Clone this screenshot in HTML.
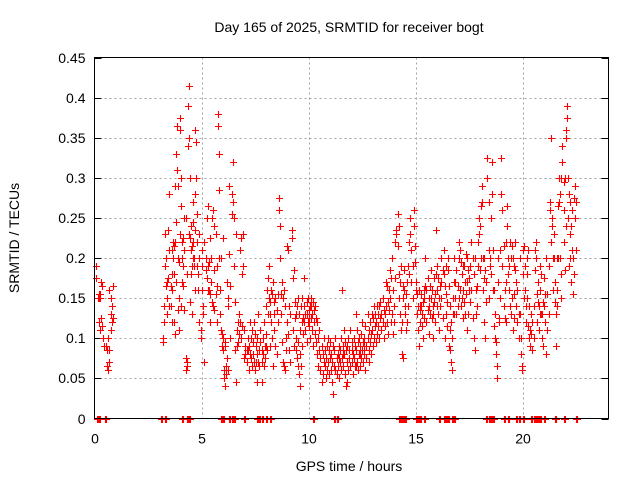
<!DOCTYPE html>
<html><head><meta charset="utf-8"><style>
body{margin:0;background:#fff}
svg{display:block;font-family:"Liberation Sans",sans-serif}
</style></head><body>
<svg id="chart" width="640" height="480" viewBox="0 0 640 480">
<text x="349" y="32" font-size="14" text-anchor="middle">Day 165 of 2025, SRMTID for receiver bogt</text>
<text transform="translate(19,238) rotate(-90)" font-size="14" text-anchor="middle">SRMTID / TECUs</text>
<text x="349" y="471" font-size="14" text-anchor="middle">GPS time / hours</text>
<g id="grid"></g>
<g id="ticks"></g>
<g id="marks"></g>
<rect x="94.5" y="57.5" width="514" height="361" fill="none" stroke="#000" stroke-width="1"/>
</svg>
<script>
const xTicks=[0,5,10,15,20];
const yTicks=[0,0.05,0.1,0.15,0.2,0.25,0.3,0.35,0.4,0.45];
const yTickLabels=["0","0.05","0.1","0.15","0.2","0.25","0.3","0.35","0.4","0.45"];
// [hour, SRMTID] pairs, grouped by time segment
const segEarly=[[0.05,0.19],[0.05,0.175],[0.15,0.15],[0.2,0.155],[0.2,0.12],[0.25,0.15],[0.25,0.11],[0.3,0.125],[0.3,0.17],[0.35,0.165],[0.35,0.115],[0.4,0.1],[0.45,0.09],[0.55,0.09],[0.6,0.085],[0.6,0.065],[0.65,0.06],[0.7,0.07],[0.7,0.16],[0.75,0.15],[0.75,0.13],[0.8,0.12],[0.8,0.14],[0.85,0.165],[0.85,0.125],[0.65,0.1],[0.7,0.085],[0.75,0.11],[0.2,0.15],[0.25,0.155]];
const segMorning=[[3.2,0.1],[3.2,0.095],[3.25,0.12],[3.25,0.14],[3.3,0.19],[3.3,0.23],[3.35,0.2],[3.35,0.165],[3.4,0.13],[3.4,0.15],[3.45,0.235],[3.45,0.175],[3.5,0.21],[3.5,0.28],[3.55,0.14],[3.55,0.165],[3.6,0.16],[3.6,0.18],[3.65,0.22],[3.65,0.2],[3.7,0.215],[3.7,0.12],[3.75,0.22],[3.75,0.29],[3.8,0.245],[3.8,0.33],[3.85,0.365],[3.85,0.31],[3.9,0.29],[3.9,0.135],[3.95,0.15],[3.95,0.11],[4.0,0.375],[4.0,0.36],[4.05,0.3],[4.05,0.265],[4.1,0.2],[4.1,0.17],[4.15,0.19],[4.15,0.165],[4.2,0.25],[4.2,0.135],[4.25,0.075],[4.25,0.06],[4.3,0.065],[4.3,0.07],[4.35,0.39],[4.35,0.34],[4.4,0.415],[4.4,0.35],[4.45,0.3],[4.45,0.225],[4.5,0.24],[4.5,0.21],[4.55,0.215],[4.55,0.19],[4.6,0.27],[4.6,0.245],[4.65,0.2],[4.65,0.19],[4.7,0.36],[4.7,0.28],[4.75,0.345],[4.75,0.3],[4.8,0.255],[4.8,0.22],[4.85,0.18],[4.85,0.16],[4.9,0.2],[4.9,0.12],[4.95,0.1],[4.95,0.11],[5.0,0.21],[5.0,0.16],[5.05,0.13],[5.05,0.14],[5.1,0.07],[5.1,0.22],[3.6,0.21],[3.7,0.18],[3.8,0.17],[3.9,0.2],[4.0,0.23],[4.1,0.22],[4.2,0.21],[4.3,0.18],[4.4,0.23],[4.5,0.18],[4.6,0.2],[4.7,0.16],[4.8,0.19],[4.9,0.23],[5.0,0.19],[3.4,0.17],[3.5,0.14],[3.6,0.12],[3.75,0.105],[4.05,0.14],[4.45,0.145],[4.55,0.13],[4.25,0.25],[4.15,0.225],[3.95,0.195],[4.6,0.22],[4.7,0.235]];
const segMid=[[5.2,0.2],[5.2,0.185],[5.25,0.25],[5.25,0.175],[5.3,0.265],[5.3,0.19],[5.35,0.195],[5.35,0.16],[5.4,0.225],[5.4,0.155],[5.45,0.2],[5.45,0.17],[5.5,0.25],[5.5,0.145],[5.55,0.26],[5.55,0.14],[5.6,0.24],[5.6,0.135],[5.65,0.23],[5.65,0.155],[5.7,0.19],[5.7,0.12],[5.75,0.38],[5.75,0.365],[5.8,0.33],[5.8,0.285],[5.85,0.16],[5.85,0.13],[5.9,0.2],[5.9,0.11],[5.95,0.105],[5.95,0.09],[6.0,0.225],[6.0,0.085],[6.05,0.06],[6.05,0.05],[6.1,0.095],[6.1,0.04],[6.15,0.065],[6.15,0.055],[6.2,0.17],[6.2,0.075],[6.25,0.15],[6.25,0.14],[6.3,0.205],[6.3,0.29],[6.35,0.165],[6.35,0.1],[6.4,0.28],[6.4,0.255],[6.45,0.32],[6.45,0.27],[6.5,0.25],[6.5,0.19],[6.55,0.145],[6.55,0.085],[6.6,0.23],[6.6,0.045],[6.65,0.09],[6.65,0.11],[6.7,0.12],[6.7,0.095],[6.75,0.105],[6.75,0.13],[6.8,0.21],[6.8,0.12],[6.85,0.225],[6.85,0.1],[6.9,0.18],[6.9,0.115],[6.95,0.23],[6.95,0.19],[7.0,0.075],[7.0,0.11],[7.05,0.09],[7.05,0.08],[7.1,0.085],[7.1,0.07],[7.15,0.1],[7.15,0.085],[7.2,0.09],[7.2,0.06],[7.25,0.12],[7.25,0.08],[5.6,0.185],[5.7,0.165],[5.8,0.2],[5.3,0.16],[5.4,0.12],[6.0,0.1],[6.1,0.09],[6.25,0.06]];
const segDay=[[7.3,0.075],[7.3,0.1],[7.35,0.065],[7.35,0.11],[7.4,0.08],[7.4,0.095],[7.45,0.07],[7.45,0.12],[7.5,0.105],[7.5,0.06],[7.55,0.07],[7.55,0.09],[7.6,0.045],[7.6,0.1],[7.65,0.07],[7.65,0.13],[7.7,0.085],[7.7,0.065],[7.75,0.095],[7.75,0.11],[7.8,0.07],[7.8,0.045],[7.85,0.08],[7.85,0.1],[7.9,0.065],[7.9,0.12],[7.95,0.09],[7.95,0.075],[8.0,0.14],[8.0,0.105],[8.05,0.16],[8.05,0.085],[8.1,0.175],[8.1,0.13],[8.15,0.19],[8.15,0.15],[8.2,0.145],[8.2,0.09],[8.25,0.16],[8.25,0.12],[8.3,0.155],[8.3,0.1],[8.35,0.17],[8.35,0.065],[8.4,0.145],[8.4,0.11],[8.45,0.15],[8.45,0.09],[8.5,0.135],[8.5,0.08],[8.55,0.155],[8.55,0.12],[8.6,0.275],[8.6,0.26],[8.65,0.24],[8.65,0.2],[8.7,0.155],[8.7,0.13],[8.75,0.17],[8.75,0.095],[8.8,0.15],[8.8,0.07],[8.85,0.16],[8.85,0.065],[8.9,0.14],[8.9,0.06],[8.95,0.1],[8.95,0.085],[9.0,0.215],[9.0,0.12],[9.05,0.21],[9.05,0.105],[9.1,0.14],[9.1,0.085],[9.15,0.13],[9.15,0.07],[9.2,0.235],[9.2,0.225],[9.25,0.175],[9.25,0.11],[9.3,0.185],[9.3,0.09],[9.35,0.145],[9.35,0.125],[9.4,0.13],[9.4,0.1],[9.45,0.14],[9.45,0.075],[9.5,0.15],[9.5,0.065],[9.55,0.13],[9.55,0.055],[9.6,0.11],[9.6,0.04],[9.65,0.14],[9.65,0.065],[9.7,0.15],[9.7,0.12],[9.75,0.125],[9.75,0.105],[9.8,0.14],[9.8,0.175],[9.85,0.13],[9.85,0.11],[9.9,0.145],[9.9,0.095],[9.95,0.15],[9.95,0.12],[10.0,0.135],[10.0,0.115],[10.05,0.14],[10.05,0.1],[10.1,0.125],[10.1,0.15],[10.15,0.13],[10.15,0.11],[10.2,0.145],[10.2,0.09],[10.25,0.12],[10.25,0.135],[10.3,0.14],[10.3,0.105],[10.35,0.095],[10.35,0.125],[10.4,0.12],[10.4,0.08],[10.45,0.1],[10.45,0.065],[10.5,0.085],[10.5,0.11],[10.55,0.06],[10.55,0.075],[10.6,0.045],[10.6,0.09],[10.65,0.08],[10.65,0.055],[10.7,0.1],[10.7,0.07],[10.75,0.065],[10.75,0.085],[10.8,0.075],[10.8,0.05],[10.85,0.09],[10.85,0.06],[9.9,0.13],[10.0,0.125],[10.1,0.14],[9.8,0.12],[9.7,0.09],[9.6,0.08],[9.5,0.095],[9.4,0.085],[8.2,0.13],[8.4,0.13],[8.0,0.09],[7.8,0.085],[7.6,0.08]];
const segLow=[[10.9,0.07],[10.9,0.1],[10.95,0.085],[10.95,0.055],[11.0,0.075],[11.0,0.095],[11.05,0.06],[11.05,0.08],[11.1,0.045],[11.1,0.07],[11.15,0.03],[11.15,0.09],[11.2,0.065],[11.2,0.085],[11.25,0.06],[11.25,0.1],[11.3,0.075],[11.3,0.055],[11.35,0.08],[11.35,0.065],[11.4,0.09],[11.4,0.05],[11.45,0.07],[11.45,0.085],[11.5,0.06],[11.5,0.1],[11.55,0.16],[11.55,0.075],[11.6,0.09],[11.6,0.065],[11.65,0.11],[11.65,0.08],[11.7,0.055],[11.7,0.095],[11.75,0.04],[11.75,0.085],[11.8,0.045],[11.8,0.07],[11.85,0.06],[11.85,0.1],[11.9,0.075],[11.9,0.085],[11.95,0.11],[11.95,0.065],[12.0,0.095],[12.0,0.07],[12.05,0.08],[12.05,0.055],[12.1,0.1],[12.1,0.075],[12.15,0.065],[12.15,0.09],[12.2,0.13],[12.2,0.085],[12.25,0.07],[12.25,0.11],[12.3,0.095],[12.3,0.06],[12.35,0.08],[12.35,0.1],[12.4,0.065],[12.4,0.09],[12.45,0.105],[12.45,0.075],[12.5,0.085],[12.5,0.12],[12.55,0.07],[12.55,0.095],[12.6,0.1],[12.6,0.08],[12.65,0.06],[12.65,0.115],[12.7,0.09],[12.7,0.075],[12.75,0.13],[12.75,0.1],[12.8,0.085],[12.8,0.11],[12.85,0.12],[12.85,0.095],[12.9,0.08],[12.9,0.105],[12.95,0.13],[12.95,0.11],[13.0,0.09],[13.0,0.125],[13.05,0.14],[13.05,0.1],[13.1,0.115],[13.1,0.13],[13.15,0.12],[13.15,0.095],[13.2,0.14],[13.2,0.105],[13.25,0.13],[13.25,0.115],[13.3,0.1],[13.3,0.14],[13.35,0.125],[13.35,0.145],[13.4,0.11],[13.4,0.13],[13.45,0.12],[13.45,0.15],[13.5,0.135],[13.5,0.1],[13.55,0.13],[13.55,0.115],[13.6,0.17],[13.6,0.14],[13.65,0.165],[13.65,0.12],[13.7,0.145],[13.7,0.105],[12.0,0.085],[12.2,0.065],[12.4,0.08],[12.6,0.09],[12.8,0.07],[11.8,0.09],[11.6,0.08],[11.4,0.075]];
const segAfternoon=[[13.75,0.135],[13.75,0.16],[13.8,0.15],[13.8,0.185],[13.85,0.175],[13.85,0.12],[13.9,0.13],[13.9,0.2],[13.95,0.16],[13.95,0.105],[14.0,0.14],[14.0,0.12],[14.05,0.22],[14.05,0.175],[14.1,0.235],[14.1,0.23],[14.15,0.255],[14.15,0.215],[14.2,0.24],[14.2,0.15],[14.25,0.17],[14.25,0.13],[14.3,0.19],[14.3,0.11],[14.35,0.12],[14.35,0.08],[14.4,0.15],[14.4,0.075],[14.45,0.185],[14.45,0.16],[14.5,0.13],[14.5,0.14],[14.55,0.155],[14.55,0.11],[14.6,0.17],[14.6,0.12],[14.65,0.19],[14.65,0.14],[14.7,0.22],[14.7,0.18],[14.75,0.25],[14.75,0.23],[14.8,0.21],[14.8,0.17],[14.85,0.19],[14.85,0.15],[14.9,0.26],[14.9,0.24],[14.95,0.215],[14.95,0.195],[15.0,0.17],[15.0,0.16],[15.05,0.155],[15.05,0.13],[15.1,0.14],[15.1,0.11],[15.15,0.16],[15.15,0.09],[15.2,0.135],[15.2,0.12],[15.25,0.155],[15.25,0.14],[15.3,0.13],[15.3,0.115],[15.35,0.145],[15.35,0.1],[15.4,0.15],[15.4,0.125],[15.45,0.2],[15.45,0.165],[15.5,0.16],[15.5,0.12],[15.55,0.175],[15.55,0.135],[15.6,0.14],[15.6,0.105],[15.65,0.165],[15.65,0.13],[15.7,0.185],[15.7,0.15],[15.75,0.16],[15.75,0.125],[15.8,0.13],[15.8,0.1],[15.85,0.175],[15.85,0.145],[15.9,0.155],[15.9,0.12],[15.95,0.235],[15.95,0.18],[16.0,0.19],[16.0,0.16],[16.05,0.175],[16.05,0.13],[16.1,0.15],[16.1,0.11],[16.15,0.165],[16.15,0.14],[16.2,0.2],[16.2,0.17],[16.25,0.185],[16.25,0.125],[16.3,0.21],[16.3,0.18],[16.35,0.165],[16.35,0.1],[16.4,0.19],[16.4,0.155],[16.45,0.145],[16.45,0.115],[16.5,0.2],[16.5,0.185],[16.55,0.165],[16.55,0.09],[16.6,0.11],[16.6,0.085],[16.65,0.12],[16.65,0.07],[16.7,0.06],[16.7,0.1],[16.75,0.15],[16.75,0.13],[16.8,0.2],[16.8,0.17],[16.85,0.17],[16.85,0.15],[16.9,0.13],[16.9,0.185],[16.95,0.165],[16.95,0.14],[17.0,0.2],[17.0,0.22],[17.05,0.21],[17.05,0.16],[17.1,0.195],[17.1,0.14],[17.15,0.18],[17.15,0.15],[17.2,0.16],[17.2,0.125],[17.25,0.19],[17.25,0.145],[17.3,0.17],[17.3,0.13],[17.35,0.205],[17.35,0.155],[17.4,0.2],[17.4,0.11],[17.45,0.185],[17.45,0.13],[17.5,0.175],[17.5,0.16],[15.2,0.14],[15.4,0.16],[15.6,0.15],[15.8,0.14],[16.0,0.14],[16.2,0.15],[16.4,0.13],[16.6,0.14],[16.8,0.13],[17.0,0.15],[17.2,0.19],[17.4,0.17],[14.2,0.18],[14.4,0.165]];
const segEvening=[[17.55,0.19],[17.55,0.145],[17.6,0.22],[17.6,0.16],[17.65,0.2],[17.65,0.125],[17.7,0.18],[17.7,0.1],[17.75,0.2],[17.75,0.085],[17.8,0.16],[17.8,0.13],[17.85,0.165],[17.85,0.14],[17.9,0.22],[17.9,0.19],[17.95,0.25],[17.95,0.23],[18.0,0.24],[18.0,0.185],[18.05,0.265],[18.05,0.2],[18.1,0.29],[18.1,0.27],[18.15,0.2],[18.15,0.16],[18.2,0.175],[18.2,0.12],[18.25,0.185],[18.25,0.1],[18.3,0.17],[18.3,0.145],[18.35,0.325],[18.35,0.3],[18.4,0.27],[18.4,0.21],[18.45,0.2],[18.45,0.19],[18.5,0.25],[18.5,0.18],[18.55,0.28],[18.55,0.32],[18.6,0.21],[18.6,0.16],[18.65,0.16],[18.65,0.115],[18.7,0.13],[18.7,0.1],[18.75,0.095],[18.75,0.08],[18.8,0.065],[18.8,0.05],[18.85,0.2],[18.85,0.17],[18.9,0.125],[18.9,0.12],[18.95,0.21],[18.95,0.15],[19.0,0.325],[19.0,0.28],[19.05,0.26],[19.05,0.19],[19.1,0.215],[19.1,0.14],[19.15,0.16],[19.15,0.125],[19.2,0.22],[19.2,0.12],[19.25,0.265],[19.25,0.24],[19.3,0.2],[19.3,0.18],[19.35,0.19],[19.35,0.16],[19.4,0.22],[19.4,0.14],[19.45,0.2],[19.45,0.13],[19.5,0.215],[19.5,0.15],[19.55,0.2],[19.55,0.11],[19.6,0.155],[19.6,0.125],[19.65,0.22],[19.65,0.185],[19.7,0.17],[19.7,0.14],[19.75,0.16],[19.75,0.12],[19.8,0.13],[19.8,0.1],[19.85,0.2],[19.85,0.13],[19.9,0.1],[19.9,0.08],[19.95,0.065],[19.95,0.06],[20.0,0.21],[20.0,0.18],[20.05,0.215],[20.05,0.15],[20.1,0.19],[20.1,0.16],[20.15,0.14],[20.15,0.12],[20.2,0.18],[20.2,0.2],[20.25,0.21],[20.25,0.115],[20.3,0.1],[20.3,0.14],[20.35,0.11],[20.35,0.09],[20.4,0.13],[20.4,0.105],[20.45,0.085],[20.45,0.12],[20.5,0.14],[20.5,0.1],[20.55,0.21],[20.55,0.185],[20.6,0.22],[20.6,0.2],[20.65,0.155],[20.65,0.12],[20.7,0.17],[20.7,0.145],[20.75,0.14],[20.75,0.11],[20.8,0.19],[20.8,0.16],[20.85,0.18],[20.85,0.13],[20.9,0.13],[20.9,0.1],[20.95,0.145],[20.95,0.09],[21.0,0.175],[21.0,0.14],[21.05,0.155],[21.05,0.12],[21.1,0.2],[21.1,0.08],[21.15,0.155],[21.15,0.11],[21.2,0.19],[21.2,0.13],[21.25,0.27],[21.25,0.26],[21.3,0.35],[21.3,0.22],[21.35,0.25],[21.35,0.24],[21.4,0.2],[21.4,0.16],[21.45,0.23],[21.45,0.2],[21.5,0.17],[21.5,0.145],[21.55,0.13],[21.55,0.09],[21.6,0.2],[21.6,0.16],[21.65,0.265],[21.65,0.2],[21.7,0.3],[21.7,0.27],[21.75,0.28],[21.75,0.2],[21.8,0.3],[21.8,0.15],[21.85,0.34],[21.85,0.32],[21.9,0.295],[21.9,0.22],[21.95,0.3],[21.95,0.185],[22.0,0.36],[22.0,0.35],[22.05,0.39],[22.05,0.375],[22.1,0.3],[22.1,0.25],[22.15,0.28],[22.15,0.19],[22.2,0.27],[22.2,0.2],[22.25,0.24],[22.25,0.17],[22.3,0.26],[22.3,0.21],[22.35,0.2],[22.35,0.155],[22.4,0.275],[22.4,0.18],[22.45,0.29],[22.45,0.25],[22.5,0.27],[22.5,0.21],[21.6,0.14],[21.8,0.18],[21.9,0.26],[22.0,0.24],[22.2,0.23],[18.2,0.2],[18.4,0.15],[19.2,0.17],[19.6,0.19],[20.2,0.15],[20.8,0.13]];
const zeroHours=[0.1,0.2,0.5,3.1,3.3,4.1,4.3,4.4,5.9,6.0,6.3,6.4,6.5,7.0,7.6,7.7,7.8,8.0,8.2,10.2,11.2,11.3,14.2,14.3,14.4,14.5,15.0,15.1,15.2,15.4,16.1,16.3,16.4,16.5,16.7,16.8,18.3,18.4,18.5,18.6,19.1,19.3,19.7,19.8,20.0,20.4,20.5,20.6,20.7,20.8,21.0,21.5,21.9,22.5];
const X0=94.5,X1=608.5,Y0=418.5,Y1=57.5,XMAX=24,YMAX=0.45;
const xs=t=>X0+(t/XMAX)*(X1-X0);
const ys=v=>Y0-(v/YMAX)*(Y0-Y1);
const NS="http://www.w3.org/2000/svg";
const grid=document.getElementById('grid'),ticks=document.getElementById('ticks'),marks=document.getElementById('marks');
function mk(tag,parent){const e=document.createElementNS(NS,tag);parent.appendChild(e);return e;}
yTicks.forEach((v,i)=>{
  const y=Math.round(ys(v));
  if(v>0&&v<YMAX){const g=mk('line',grid);
    
    
    g.setAttribute('x1',X0);g.setAttribute('x2',X1);g.setAttribute('y1',y+0.5);g.setAttribute('y2',y+0.5);
    g.setAttribute('stroke','#a0a0a0');g.setAttribute('stroke-dasharray','2,3');}
  const t=mk('line',ticks);
  
  
  t.setAttribute('x1',X0);t.setAttribute('x2',X0+7);t.setAttribute('y1',y+0.5);t.setAttribute('y2',y+0.5);t.setAttribute('stroke','#000');
  const t2=mk('line',ticks);
  
  
  t2.setAttribute('x1',X1-7);t2.setAttribute('x2',X1);t2.setAttribute('y1',y+0.5);t2.setAttribute('y2',y+0.5);t2.setAttribute('stroke','#000');
  const l=mk('text',ticks);
  
  
  l.setAttribute('x',X0-9);l.setAttribute('y',y+5);l.setAttribute('font-size','14');l.setAttribute('text-anchor','end');
  l.textContent=yTickLabels[i];
});
xTicks.forEach(v=>{
  const x=Math.round(xs(v));
  if(v>0){const g=mk('line',grid);
    
    
    g.setAttribute('x1',x+0.5);g.setAttribute('x2',x+0.5);g.setAttribute('y1',Y1);g.setAttribute('y2',Y0);
    g.setAttribute('stroke','#a0a0a0');g.setAttribute('stroke-dasharray','2,3');}
  const l=mk('text',ticks);
  
  
  l.setAttribute('x',x);l.setAttribute('y',Y0+25);l.setAttribute('font-size','14');l.setAttribute('text-anchor','middle');
  l.textContent=String(v);
});
let d='';
function cross(t,v){
  const x=Math.round(xs(t))+0.5,y=Math.round(ys(v))+0.5;
  d+=`M${x-3.5} ${y}h7M${x} ${y-3.5}v7`;
}
[segEarly,segMorning,segMid,segDay,segLow,segAfternoon,segEvening].forEach(seg=>seg.forEach(p=>cross(p[0],p[1])));
zeroHours.forEach(t=>{cross(t,0);cross(t+0.05,0);});
const p=mk('path',marks);


p.setAttribute('d',d);p.setAttribute('stroke','#ff0000');p.setAttribute('stroke-width','1.1');p.setAttribute('fill','none');
</script>
</body></html>
